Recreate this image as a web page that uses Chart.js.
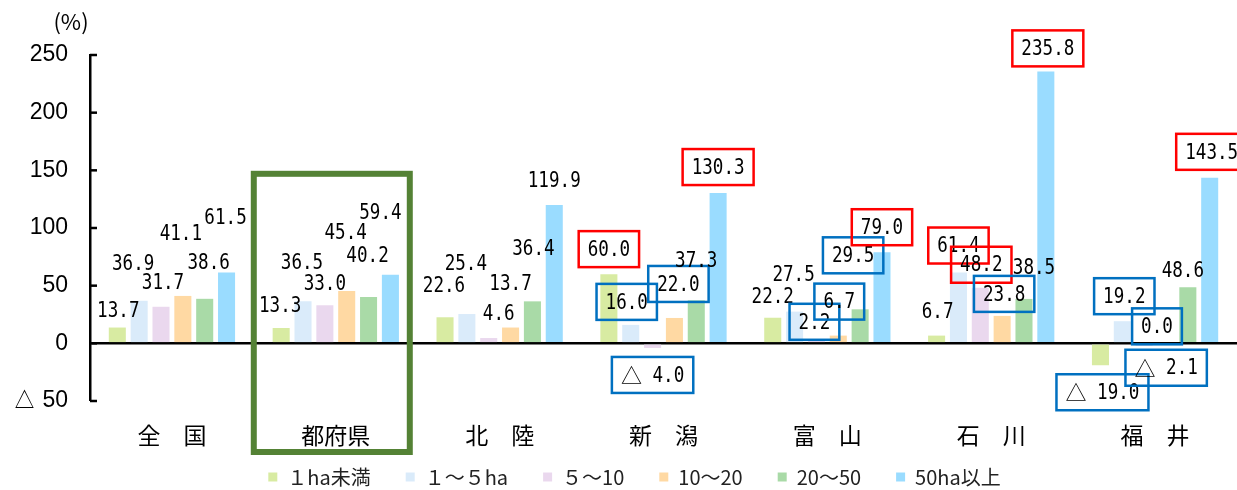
<!DOCTYPE html>
<html lang="ja">
<head>
<meta charset="utf-8">
<script src="https://cdn.jsdelivr.net/npm/chart.js@4/dist/chart.umd.min.js"></script>
<style>
html, body { margin: 0; padding: 0; background: #fff; }
</style>
</head>
<body>
<canvas id="chart" width="1237" height="490"></canvas>
<script>
// ── DATA ──
const categories = ['全　国', '都府県', '北　陸', '新　潟', '富　山', '石　川', '福　井'];
const seriesNames = ['１ha未満', '１～５ha', '５～10', '10～20', '20～50', '50ha以上'];

const under1 = [13.7, 13.3, 22.6, 60.0, 22.2, 6.7, -19.0];
const from1to5 = [36.9, 36.5, 25.4, 16.0, 27.5, 61.4, 19.2];
const from5to10 = [31.7, 33.0, 4.6, -4.0, 2.2, 48.2, -2.1];
const from10to20 = [41.1, 45.4, 13.7, 22.0, 6.7, 23.8, 0.0];
const from20to50 = [38.6, 40.2, 36.4, 37.3, 29.5, 38.5, 48.6];
const over50 = [61.5, 59.4, 119.9, 130.3, 79.0, 235.8, 143.5];

// r = boxed red, b = boxed blue
const mark1 = ['', '', '', 'r', '', '', 'b'];
const mark2 = ['', '', '', 'b', '', 'r', 'b'];
const mark3 = ['', '', '', 'b', 'b', 'r', 'b'];
const mark4 = ['', '', '', 'b', 'b', 'b', 'b'];
const mark5 = ['', '', '', '', 'b', '', ''];
const mark6 = ['', '', '', 'r', 'r', 'r', 'r'];

const yTicks = [-50, 0, 50, 100, 150, 200, 250];

// ── LOOK ──
const COLORS = ['#D8EBA2', '#DAEBFA', '#EAD8EE', '#FFD9A3', '#A9DAA7', '#9ADCFF'];
const MONO = '"DejaVu Sans Mono", monospace';
const CJK = '"Noto Sans CJK JP", sans-serif';

// label nudges [dx, dy above value point], manual placement like the original
const labelNudge = [
    [[1, 17], [-1, 23], [-1, 32], [0, 25], [0, 21], [1, 24], [2, -27]],
    [[-6, 37], [-1, 39], [-1, 51], [-4, 23], [-1, 37], [0, 27], [2, 25]],
    [[2, 24], [0, 22], [10, 25], [0, -27], [-2, 19], [1, 23], [22, -22]],
    [[-2, 63], [-1, 59], [0, 44], [4, 34], [1, 34], [2, 22], [-9, 17]],
    [[4, 37], [-1, 42], [1, 53], [0, 40], [-7, 54], [10, 32], [-5, 17]],
    [[-1, 55], [-10, 63], [0, 25], [0, 26], [0, 25], [2, 23], [2, 26]]
];

const seriesValues = [under1, from1to5, from5to10, from10to20, from20to50, over50];
const seriesMarks = [mark1, mark2, mark3, mark4, mark5, mark6];

function drawValue(ctx, v, cx, cy, mark) {
    const tri = v < 0 ? '△' : '';
    const num = (v < 0 ? ' ' : '') + Math.abs(v).toFixed(1);
    const sx = 0.8;
    ctx.font = '22px ' + MONO;
    const wNum = ctx.measureText(num).width * sx;
    ctx.font = '21px ' + CJK;
    const wTri = tri ? ctx.measureText(tri).width : 0;
    const w = wTri + wNum;
    let x = cx - w / 2;
    ctx.fillStyle = '#000';
    ctx.textBaseline = 'middle';
    ctx.textAlign = 'left';
    if (tri) {
        ctx.fillText(tri, x, cy);
        x += wTri;
    }
    ctx.save();
    ctx.translate(x, cy + 1);
    ctx.scale(sx, 1);
    ctx.font = '22px ' + MONO;
    ctx.fillText(num, 0, 0);
    ctx.restore();
    if (mark) {
        ctx.strokeStyle = mark === 'r' ? '#FF0000' : '#0070C0';
        ctx.lineWidth = 2.5;
        ctx.strokeRect(cx - w / 2 - 9, cy - 18, w + 18, 36);
    }
}

// ── ANNOTATIONS ──
const annotations = {
    id: 'annotations',
    afterLayout(chart) {
        // let axis labels spill out of their boxes instead of being clipped
        chart.scales.x.bottom = chart.height;
        chart.scales.y.left = 0;
    },
    afterDatasetsDraw(chart) {
        const ctx = chart.ctx;
        const y = chart.scales.y;
        ctx.save();
        seriesValues.forEach((vals, s) => {
            const meta = chart.getDatasetMeta(s);
            vals.forEach((v, i) => {
                const bar = meta.data[i];
                const [dx, dy] = labelNudge[s][i];
                drawValue(ctx, v, bar.x + dx, y.getPixelForValue(v) - dy, seriesMarks[s][i]);
            });
        });
        ctx.restore();
    },
    afterDraw(chart) {
        const ctx = chart.ctx;
        const area = chart.chartArea;
        const x = chart.scales.x;
        const y = chart.scales.y;
        ctx.save();
        // inside tick marks on the value axis
        ctx.strokeStyle = '#000';
        ctx.lineWidth = 2.5;
        y.ticks.forEach(t => {
            const py = y.getPixelForValue(t.value);
            ctx.beginPath();
            ctx.moveTo(area.left, py);
            ctx.lineTo(area.left + 7, py);
            ctx.stroke();
        });
        // unit
        ctx.fillStyle = '#000';
        ctx.font = '22px ' + CJK;
        ctx.textAlign = 'center';
        ctx.textBaseline = 'middle';
        ctx.fillText('(%)', area.left - 19, area.top - 33);
        // highlight frame round 都府県
        const cx = x.getPixelForValue(1);
        ctx.strokeStyle = '#548235';
        ctx.lineWidth = 6;
        const top = y.getPixelForValue(147);
        ctx.strokeRect(cx - 82, top, 156, area.bottom + 51 - top);
        ctx.restore();
    }
};

// ── CHART ──
const ctx = document.getElementById('chart').getContext('2d');
const chart = new Chart(ctx, {
    type: 'bar',
    data: {
        labels: categories,
        datasets: seriesValues.map((vals, s) => ({
            label: seriesNames[s],
            data: vals,
            backgroundColor: COLORS[s],
            borderWidth: 0,
            barPercentage: 0.78,
            categoryPercentage: 0.8
        }))
    },
    options: {
        responsive: false,
        animation: false,
        layout: { padding: { top: 55, left: 32, right: 0, bottom: 0 } },
        plugins: {
            legend: {
                position: 'bottom',
                maxHeight: 58,
                labels: {
                    boxWidth: 9,
                    boxHeight: 9,
                    padding: 35,
                    color: '#222',
                    font: { family: CJK, size: 20 }
                }
            },
            tooltip: { enabled: false }
        },
        scales: {
            x: {
                grid: { display: false },
                border: { display: false },
                ticks: {
                    color: '#000',
                    padding: 12,
                    font: { family: CJK, size: 23 }
                },
                afterFit(scale) { scale.height = 31; }
            },
            y: {
                min: -50,
                max: 250,
                afterBuildTicks(scale) { scale.ticks = yTicks.map(v => ({ value: v })); },
                afterFit(scale) { scale.width = 58; },
                border: { display: true, color: '#000', width: 2.5 },
                grid: {
                    drawTicks: false,
                    color: c => (c.tick && c.tick.value === 0 ? '#000' : 'rgba(0,0,0,0)'),
                    lineWidth: c => (c.tick && c.tick.value === 0 ? 2.5 : 0)
                },
                ticks: {
                    color: '#000',
                    padding: 22,
                    font: { family: '"Liberation Sans", sans-serif', size: 23 },
                    callback: v => (v < 0 ? '△ ' + Math.abs(v) : String(v))
                }
            }
        }
    },
    plugins: [annotations]
});
</script>
</body>
</html>
